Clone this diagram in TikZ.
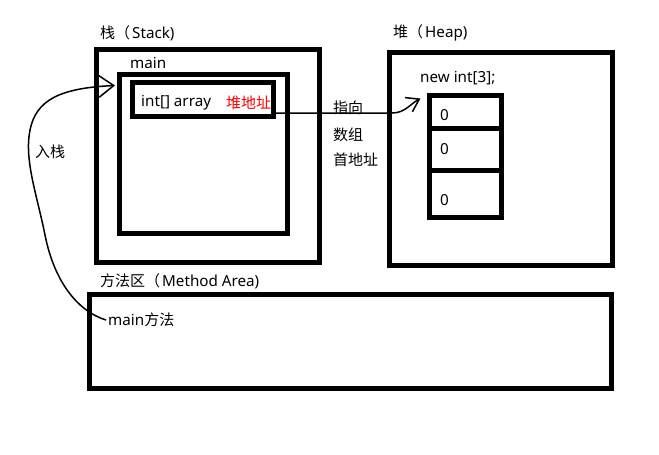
\documentclass[tikz,border=0pt]{standalone}
\usepackage{fontspec}
\usepackage{tikz}
\usetikzlibrary{arrows.meta}
\newfontfamily\cjk{Noto Sans CJK SC}
\newfontfamily\lat{Noto Sans}
\newcommand{\zh}[1]{{\cjk\fontsize{15}{18}\selectfont #1}}

\begin{document}
\begin{tikzpicture}[x = 1pt, y = -1pt,
                        box/.style = {rectangle, draw, line width = 5pt, inner sep = 0pt},
                        txt/.style = {anchor = west, inner sep = 0pt, font = \lat\fontsize{15.2}{18}\selectfont},
                        link/.style = {line width = 1.5pt}]
      \useasboundingbox (0, 0) rectangle (659, 455);
      % stack
      \node [box, minimum width = 223pt, minimum height = 212.5pt] (stack) at (207.5, 155.75){};
      \node [box, minimum width = 167.5pt, minimum height = 159pt] (mainbox) at (203.25, 154){};
      \node [box, minimum width = 141pt, minimum height = 34pt] (arr) at (203, 99.5){};
      \node [txt] (stacklbl) at (100, 33){\zh{栈（}\kern2pt Stack)};
      \node [txt] (mainlbl) at (130, 63){main};
      \node [txt] (arrlbl) at (141, 103){int[] array};
      \node [txt, text = red] (addr) at (226, 103){\zh{堆地址}};
      \node [txt] (push) at (35, 152){\zh{入栈}};
      % heap
      \node [box, minimum width = 223pt, minimum height = 213pt] (heap) at (501, 159){};
      \node [txt] (heaplbl) at (393, 33){\zh{堆（}\kern2pt Heap)};
      \node [txt] (newlbl) at (420, 78){new int[3];};
      \node [box, minimum width = 71.5pt, minimum height = 33pt] (cell1) at (465.25, 112){};
      \node [box, minimum width = 71.5pt, minimum height = 42pt] (cell2) at (465.25, 149.5){};
      \node [box, minimum width = 71.5pt, minimum height = 46.5pt] (cell3) at (465.25, 193.75){};
      \node [txt] (v1) at (440, 115){0};
      \node [txt] (v2) at (440, 149){0};
      \node [txt] (v3) at (440, 200){0};
      \node [txt] (pt1) at (333, 108){\zh{指向}};
      \node [txt] (pt2) at (333, 135){\zh{数组}};
      \node [txt] (pt3) at (333, 160){\zh{首地址}};
      % method area
      \node [box, minimum width = 522.5pt, minimum height = 93.5pt] (method) at (350.25, 341.25){};
      \node [txt] (methodlbl) at (100, 281){\zh{方法区（}\kern2pt Method Area)};
      \node [txt] (mm) at (108, 320){main\zh{方法}};
      % arrows
      \draw [link, -{Straight Barb[length = 15pt, width = 22pt]}] ([xshift = -2pt]mm.west)
            .. controls (80, 312) and (55, 285) .. (45, 235)
            .. controls (37, 195) and (24, 160) .. (30, 130)
            .. controls (36, 100) and (60, 88) .. ([xshift = -2pt, yshift = -13.5pt]mainbox.north west);
      \draw [link, -{Straight Barb[length = 12pt, width = 16pt]}] ([yshift = -13.5pt]arr.east) -- (392, 113)
            .. controls (405, 113) and (410, 104) .. ([xshift = -6.5pt, yshift = -5.5pt]cell1.north west);
    \end{tikzpicture}
\end{document}
